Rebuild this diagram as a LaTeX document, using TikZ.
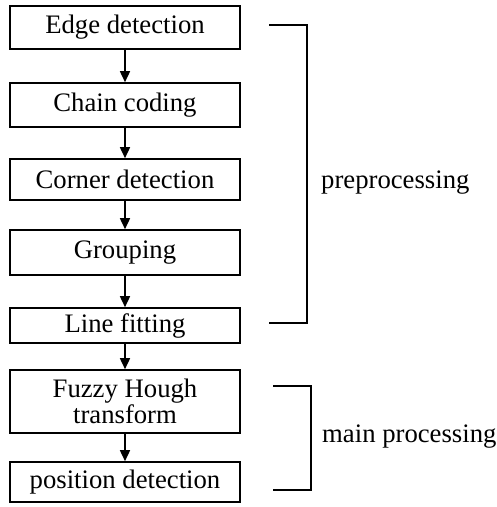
\documentclass[tikz,border=0pt]{standalone}
\usepackage{fontspec}
\setmainfont{Liberation Serif}
\usetikzlibrary{arrows.meta}
\begin{document}
\begin{tikzpicture}[x=1pt,y=1pt,
  box/.style={draw,line width=1.6pt,minimum width=230pt,inner sep=0pt,align=center,
    font=\fontsize{26.7}{23}\selectfont},
  flow/.style={line width=1.6pt,-{Triangle[width=10pt,length=11pt]}},
  brk/.style={line width=2pt},
  lbl/.style={anchor=west,inner sep=0pt,font=\fontsize{26.7}{30}\selectfont}]
\useasboundingbox (0,0) rectangle (497,507);
\node[box,minimum height=43pt] (edge) at (125,479.5) {Edge detection};
\node[box,minimum height=44pt] (chain) at (125,402) {Chain coding};
\node[box,minimum height=41pt] (corner) at (125,327.5) {Corner detection};
\node[box,minimum height=45pt] (group) at (125,254.5) {Grouping};
\node[box,minimum height=35pt] (line) at (125,181.5) {Line fitting};
\node[box,minimum height=63pt] (fuzzy) at (125,105.5) {Fuzzy Hough\\transform};
\node[box,minimum height=40pt] (pos) at (125,25) {position detection};
\draw[flow] (edge) -- (chain);
\draw[flow] (chain) -- (corner);
\draw[flow] (corner) -- (group);
\draw[flow] (group) -- (line);
\draw[flow] (line) -- (fuzzy);
\draw[flow] (fuzzy) -- (pos);
\coordinate (pa) at (269,482);
\coordinate (pb) at (307,482);
\coordinate (pc) at (307,184);
\coordinate (pd) at (269,184);
\draw[brk] (pa) -- (pb) -- (pc) -- (pd);
\coordinate (ma) at (273,121);
\coordinate (mb) at (311,121);
\coordinate (mc) at (311,17);
\coordinate (md) at (273,17);
\draw[brk] (ma) -- (mb) -- (mc) -- (md);
\node[lbl] (pre) at (321,324) {preprocessing};
\node[lbl] (main) at (322,70) {main processing};
\end{tikzpicture}
\end{document}
